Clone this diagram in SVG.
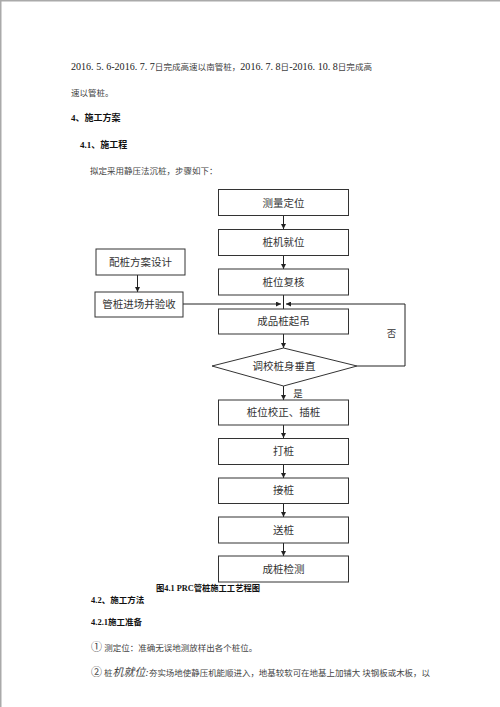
<svg xmlns="http://www.w3.org/2000/svg" width="500" height="707" viewBox="0 0 500 707">
<defs>
<style>
.bg{fill:#fff}
.page{stroke:#aaa;stroke-width:1.5;fill:none}
.box{fill:#fff;stroke:#333;stroke-width:1}
.lbl{font-family:"Liberation Serif","Noto Sans CJK SC",serif;font-size:10.5px;fill:#333;text-anchor:middle}
.body{font-family:"Liberation Serif","Noto Sans CJK SC",serif;font-size:8.5px;fill:#444}
.head{font-family:"Liberation Serif","Noto Sans CJK SC",serif;font-size:9px;fill:#111;font-weight:bold}
.conn{stroke:#222;stroke-width:1;fill:none}
</style>
<marker id="ah" viewBox="0 0 10 10" refX="10" refY="5" markerWidth="5" markerHeight="5" orient="auto" markerUnits="userSpaceOnUse">
<path d="M0,0 L10,5 L0,10 z" fill="#222"/>
</marker>
</defs>
<rect class="bg" x="0" y="0" width="500" height="707"/>
<path class="page" d="M0.75,707 V0.75 H500"/>

<g id="text-body">
<text class="body" x="71" y="70" textLength="301" lengthAdjust="spacingAndGlyphs"><tspan style="font-size:10px;fill:#222">2016. 5. 6-2016. 7. 7</tspan>日完成高速以南管桩，<tspan style="font-size:10px;fill:#222">2016. 7. 8</tspan>日<tspan style="font-size:10px;fill:#222">-2016. 10. 8</tspan>日完成高</text>
<text class="body" x="71" y="96">速以管桩。</text>
<text class="head" x="71" y="120.5">4、施工方案</text>
<text class="head" x="80" y="147.5">4.1、施工程</text>
<text class="body" x="90" y="174">拟定采用静压法沉桩，步骤如下：</text>
<text class="head" x="156" y="591" style="font-size:8.5px" textLength="104" lengthAdjust="spacingAndGlyphs">图4.1 PRC管桩施工工艺程图</text>
<text class="head" x="91" y="602.5" style="font-size:8.5px">4.2、施工方法</text>
<text class="head" x="91" y="625" style="font-size:8.5px">4.2.1施工准备</text>
<text class="body" x="91" y="650.5"><tspan style="font-size:11px">①</tspan> 测定位：准确无误地测放样出各个桩位。</text>
<text class="body" x="91" y="676" textLength="339" lengthAdjust="spacingAndGlyphs"><tspan style="font-size:11px">②</tspan> 桩<tspan style="font-size:11px;font-style:italic">机就位:</tspan>夯实场地使静压机能顺进入，地基较软可在地基上加铺大 块钢板或木板，以</text>
</g>

<g id="connectors">
<line class="conn" x1="283.5" y1="215" x2="283.5" y2="229" marker-end="url(#ah)"/>
<line class="conn" x1="283.5" y1="255" x2="283.5" y2="269" marker-end="url(#ah)"/>
<line class="conn" x1="283.5" y1="295" x2="283.5" y2="309"/>
<line class="conn" x1="137.5" y1="275" x2="137.5" y2="292" marker-end="url(#ah)"/>
<line class="conn" x1="183" y1="304" x2="281" y2="304" marker-end="url(#ah)"/>
<polyline class="conn" points="357,366 405,366 405,304 286,304" marker-end="url(#ah)"/>
<line class="conn" x1="283.5" y1="334" x2="283.5" y2="348" marker-end="url(#ah)"/>
<line class="conn" x1="283.5" y1="386" x2="283.5" y2="400" marker-end="url(#ah)"/>
<line class="conn" x1="283.5" y1="425" x2="283.5" y2="438" marker-end="url(#ah)"/>
<line class="conn" x1="283.5" y1="464" x2="283.5" y2="478" marker-end="url(#ah)"/>
<line class="conn" x1="283.5" y1="503.5" x2="283.5" y2="517" marker-end="url(#ah)"/>
<line class="conn" x1="283.5" y1="543" x2="283.5" y2="556" marker-end="url(#ah)"/>
<text class="lbl" x="391.5" y="336.5" style="font-size:9.5px">否</text>
<text class="lbl" x="298" y="396.5" style="font-size:9.5px">是</text>
</g>

<g id="n1"><rect class="box" x="218.5" y="189.5" width="130" height="26"/><text class="lbl" x="283.5" y="206.5">测量定位</text></g>
<g id="n2"><rect class="box" x="218.5" y="229.5" width="130" height="26"/><text class="lbl" x="283.5" y="246">桩机就位</text></g>
<g id="n3"><rect class="box" x="218.5" y="269" width="130" height="26"/><text class="lbl" x="283.5" y="285.5">桩位复核</text></g>
<g id="n4"><rect class="box" x="96" y="249" width="89" height="26"/><text class="lbl" x="140.5" y="265.5">配桩方案设计</text></g>
<g id="n5"><rect class="box" x="95" y="292" width="88" height="25"/><text class="lbl" x="139" y="308">管桩进场并验收</text></g>
<g id="n6"><rect class="box" x="218.5" y="309" width="130" height="25"/><text class="lbl" x="283.5" y="325">成品桩起吊</text></g>
<g id="n7"><polygon class="box" points="283.5,348 357,366 283.5,386 212,366"/><text class="lbl" x="284" y="370">调校桩身垂直</text></g>
<g id="n8"><rect class="box" x="218.5" y="400" width="130" height="25"/><text class="lbl" x="283.5" y="416">桩位校正、插桩</text></g>
<g id="n9"><rect class="box" x="218.5" y="438.5" width="130" height="26"/><text class="lbl" x="283.5" y="455">打桩</text></g>
<g id="n10"><rect class="box" x="218.5" y="478" width="130" height="25.5"/><text class="lbl" x="283.5" y="494">接桩</text></g>
<g id="n11"><rect class="box" x="218.5" y="517" width="130" height="26"/><text class="lbl" x="283.5" y="533.5">送桩</text></g>
<g id="n12"><rect class="box" x="218.5" y="556" width="130" height="26"/><text class="lbl" x="283.5" y="572.5">成桩检测</text></g>
</svg>
